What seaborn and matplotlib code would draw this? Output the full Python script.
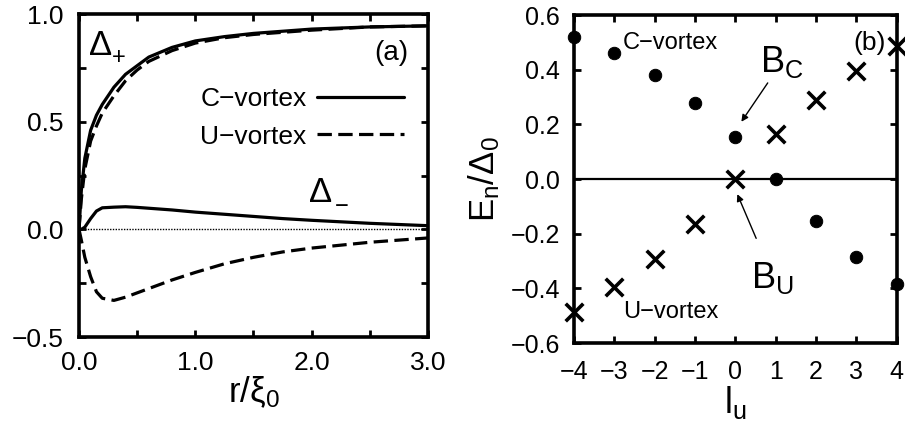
import matplotlib
matplotlib.use("Agg")
import matplotlib.pyplot as plt
import seaborn as sns
import numpy as np
import pandas as pd

# Panel (a): order parameter profiles
r = [0, 0.02, 0.05, 0.1, 0.15, 0.2, 0.3, 0.4, 0.5, 0.6, 0.8, 1.0, 1.25, 1.5, 1.75, 2.0, 2.5, 3.0]
c_plus = [0, 0.18, 0.33, 0.46, 0.53, 0.58, 0.66, 0.72, 0.76, 0.80, 0.845, 0.875, 0.895, 0.91, 0.92, 0.93, 0.94, 0.945]
u_plus = [0, 0.14, 0.28, 0.41, 0.48, 0.54, 0.62, 0.69, 0.74, 0.78, 0.83, 0.865, 0.89, 0.905, 0.915, 0.925, 0.94, 0.945]
c_minus = [0, 0.0, 0.01, 0.05, 0.085, 0.1, 0.103, 0.105, 0.102, 0.098, 0.09, 0.08, 0.07, 0.06, 0.05, 0.042, 0.028, 0.017]
u_minus = [0, -0.05, -0.13, -0.22, -0.29, -0.32, -0.33, -0.315, -0.295, -0.275, -0.235, -0.2, -0.16, -0.13, -0.105, -0.087, -0.06, -0.04]

# Panel (b): bound state energies
l_u = [-4, -3, -2, -1, 0, 1, 2, 3, 4]
e_c = [0.52, 0.46, 0.38, 0.28, 0.155, 0.0, -0.155, -0.285, -0.385]
e_u = [-0.487, -0.396, -0.293, -0.164, 0.0, 0.164, 0.291, 0.394, 0.488]

a_xticks = [0, 0.5, 1.0, 1.5, 2.0, 2.5, 3.0]
a_xlabels = ["0.0", "", "1.0", "", "2.0", "", "3.0"]
a_yticks = [-0.5, -0.25, 0, 0.25, 0.5, 0.75, 1.0]
a_ylabels = ["\u22120.5", "", "0.0", "", "0.5", "", "1.0"]
b_yticks = [-0.6, -0.4, -0.2, 0, 0.2, 0.4, 0.6]
b_ylabels = ["\u22120.6", "\u22120.4", "\u22120.2", "0.0", "0.2", "0.4", "0.6"]
b_xlabels = ["\u22124", "\u22123", "\u22122", "\u22121", "0", "1", "2", "3", "4"]

sns.set_style("ticks")
plt.rcParams["font.family"] = ["Liberation Sans", "DejaVu Sans"]
plt.rcParams["mathtext.fontset"] = "custom"
plt.rcParams["mathtext.rm"] = "Liberation Sans"
plt.rcParams["mathtext.it"] = "Liberation Sans"
for key in ("text.color", "axes.labelcolor", "axes.edgecolor", "xtick.color", "ytick.color"):
    plt.rcParams[key] = "black"

fig = plt.figure(figsize=(9.05, 4.22), dpi=100)
ax1 = fig.add_axes([0.0873, 0.2014, 0.3856, 0.7654])
ax2 = fig.add_axes([0.634, 0.187, 0.357, 0.777])

dash = (4.5, 2)
sns.lineplot(x=r, y=c_plus, ax=ax1, color="black", lw=2.3, label="C\u2212vortex")
sns.lineplot(x=r, y=u_plus, ax=ax1, color="black", lw=2.3, label="U\u2212vortex")
ax1.lines[-1].set_dashes(dash)
sns.lineplot(x=r, y=c_minus, ax=ax1, color="black", lw=2.3)
sns.lineplot(x=r, y=u_minus, ax=ax1, color="black", lw=2.3)
ax1.lines[-1].set_dashes(dash)
ax1.axhline(0, color="black", lw=1.0, ls=(0, (1, 1)), zorder=1)

ax1.set_xlim(0, 3.0)
ax1.set_ylim(-0.5, 1.0)
ax1.set_xticks(a_xticks)
ax1.set_xticklabels(a_xlabels)
ax1.set_yticks(a_yticks)
ax1.set_yticklabels(a_ylabels)
ax1.set_xlabel(r"$\mathregular{r/\xi_0}$", fontsize=25, labelpad=0)
ax1.legend(loc="upper right", bbox_to_anchor=(0.985, 0.83), frameon=False,
           markerfirst=False, fontsize=19, handlelength=3.3, labelspacing=0.5,
           handletextpad=0.4, borderpad=0.2)
ax1.text(0.09, 0.855, "\u0394", fontsize=25, va="center")
ax1.text(0.285, 0.795, "+", fontsize=17, va="center")
ax1.text(1.98, 0.17, "\u0394", fontsize=25, va="center")
ax1.text(2.2, 0.105, "\u2212", fontsize=17, va="center")
ax1.text(2.83, 0.82, "(a)", fontsize=20, ha="right", va="center")

ax2.axhline(0, color="black", lw=1.6, zorder=1)
sns.scatterplot(x=l_u, y=e_c, ax=ax2, color="black", marker="o", s=80,
                edgecolor="black", clip_on=False, zorder=3)
sns.scatterplot(x=l_u, y=e_u, ax=ax2, color="black", marker="x", s=160,
                linewidth=2.6, clip_on=False, zorder=3)
ax2.set_xlim(-4, 4)
ax2.set_ylim(-0.6, 0.6)
ax2.set_xticks(l_u)
ax2.set_xticklabels(b_xlabels)
ax2.set_yticks(b_yticks)
ax2.set_yticklabels(b_ylabels)
ax2.set_xlabel(r"$\mathregular{l_u}$", fontsize=26, labelpad=0)
ax2.set_ylabel(r"$\mathregular{E_n/\Delta_0}$", fontsize=25, labelpad=6)
ax2.text(-2.78, 0.5, "C\u2212vortex", fontsize=17, va="center")
ax2.text(-2.78, -0.485, "U\u2212vortex", fontsize=17, va="center")
ax2.text(3.72, 0.5, "(b)", fontsize=19, ha="right", va="center")
ax2.annotate(r"$\mathregular{B_C}$", xy=(0.15, 0.21), xytext=(0.62, 0.43),
             fontsize=26, va="center",
             arrowprops=dict(arrowstyle="-|>", color="black", lw=1.0,
                             shrinkA=0, shrinkB=0, mutation_scale=10),
             )
ax2.annotate(r"$\mathregular{B_U}$", xy=(0.05, -0.055), xytext=(0.4, -0.36),
             fontsize=26, va="center",
             arrowprops=dict(arrowstyle="-|>", color="black", lw=1.0,
                             shrinkA=14, shrinkB=0, mutation_scale=10),
             )

for ax, fs, px, py in ((ax1, 19, 10, 11), (ax2, 18, 12, 10)):
    for side in ax.spines.values():
        side.set_linewidth(2.6)
        side.set_color("black")
    ax.tick_params(direction="in", top=True, right=True, length=5, width=2,
                   labelsize=fs, colors="black")
    ax.tick_params(axis="x", pad=px)
    ax.tick_params(axis="y", pad=py)

fig.savefig("out.png", dpi=100)
